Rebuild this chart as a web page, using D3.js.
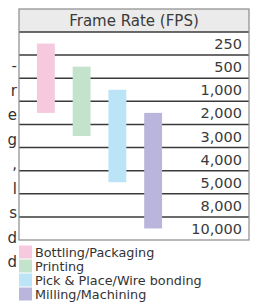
<!DOCTYPE html>
<html>
<head>
<meta charset="utf-8">
<title>Frame Rate (FPS)</title>
<style>
body {
  margin: 0;
  background: #fff;
  font-family: "DejaVu Sans", Verdana, sans-serif;
}
.row-line {
  stroke: #3a3a3a;
  stroke-width: 1.5;
}
.tick-label {
  font-size: 14.5px;
  fill: #3a3a3a;
}
.legend-label {
  font-size: 12.8px;
  fill: #333;
}
.side-text {
  font-size: 15px;
  fill: #333;
}
</style>
</head>
<body>
<div id="vis"></div>

<script src="https://d3js.org/d3.v7.min.js"></script>
<script>

// Frame rate rows (top to bottom)
var frameRates = ["250", "500", "1,000", "2,000", "3,000", "4,000", "5,000", "8,000", "10,000"];

// Applications and their frame rate ranges (low, high)
var apps = ["Bottling/Packaging", "Printing", "Pick & Place/Wire bonding", "Milling/Machining"];
var rangeLow = ["250", "500", "1,000", "2,000"];
var rangeHigh = ["2,000", "3,000", "5,000", "10,000"];
var colors = ["#f7c9de", "#c3e3cd", "#bce4f7", "#b9b5dc"];

// Clipped paragraph ends to the left of the table
var sideText = ["-", "r", "e", "g", ",", "l", "s", "d", "d"];

var width = 255,
    height = 307;

var box = {left: 19, right: 249, top: 9, header: 32, bottom: 240};

var svg = d3.select("#vis").append("svg")
    .attr("width", width)
    .attr("height", height);

// Rows: one band per frame rate
var y = d3.scaleBand()
    .domain(frameRates)
    .range([box.header, box.bottom]);

// Columns: one band per application
var x = d3.scaleBand()
    .domain(apps)
    .range([28, 171])
    .paddingInner(0.5)
    .paddingOuter(0.25);

var color = d3.scaleOrdinal()
    .domain(apps)
    .range(colors);

// Header
svg.append("rect")
    .attr("x", box.left)
    .attr("y", box.top)
    .attr("width", box.right - box.left)
    .attr("height", box.header - box.top)
    .attr("fill", "#ebebeb");

svg.append("text")
    .attr("x", (box.left + box.right) / 2)
    .attr("y", (box.top + box.header) / 2)
    .attr("dy", "0.36em")
    .attr("text-anchor", "middle")
    .style("font-size", "15px")
    .style("fill", "#3a3a3a")
    .text("Frame Rate (FPS)");

// Row lines
svg.selectAll(".row-line")
    .data(frameRates)
    .enter()
    .append("line")
    .attr("class", "row-line")
    .attr("x1", box.left)
    .attr("x2", box.right)
    .attr("y1", function(d) { return y(d); })
    .attr("y2", function(d) { return y(d); });

// Row labels
svg.selectAll(".tick-label")
    .data(frameRates)
    .enter()
    .append("text")
    .attr("class", "tick-label")
    .attr("x", 242)
    .attr("y", function(d) { return y(d) + y.bandwidth() / 2; })
    .attr("dy", "0.38em")
    .attr("text-anchor", "end")
    .text(function(d) { return d; });

// Range bars, from row centre to row centre
svg.selectAll(".bar")
    .data(apps)
    .enter()
    .append("rect")
    .attr("class", "bar")
    .attr("x", function(d) { return x(d); })
    .attr("width", x.bandwidth())
    .attr("y", function(d, i) { return y(rangeLow[i]) + y.bandwidth() / 2; })
    .attr("height", function(d, i) { return y(rangeHigh[i]) - y(rangeLow[i]); })
    .attr("fill", function(d) { return color(d); });

// Outer border
svg.append("rect")
    .attr("x", box.left)
    .attr("y", box.top)
    .attr("width", box.right - box.left)
    .attr("height", box.bottom - box.top)
    .attr("fill", "none")
    .attr("stroke", "#8a8a8a")
    .attr("stroke-width", 1.2);

// Legend
var legend = svg.selectAll(".legend")
    .data(apps)
    .enter()
    .append("g")
    .attr("class", "legend")
    .attr("transform", function(d, i) { return "translate(19," + (252 + i * 14) + ")"; });

legend.append("rect")
    .attr("x", 0)
    .attr("y", -6.5)
    .attr("width", 13)
    .attr("height", 13)
    .attr("fill", function(d) { return color(d); });

legend.append("text")
    .attr("class", "legend-label")
    .attr("x", 16)
    .attr("dy", "0.36em")
    .text(function(d) { return d; });

// Side text
svg.selectAll(".side-text")
    .data(sideText)
    .enter()
    .append("text")
    .attr("class", "side-text")
    .attr("x", 17)
    .attr("y", function(d, i) { return 71 + i * 24.5; })
    .attr("text-anchor", "end")
    .text(function(d) { return d; });

</script>
</body>
</html>
